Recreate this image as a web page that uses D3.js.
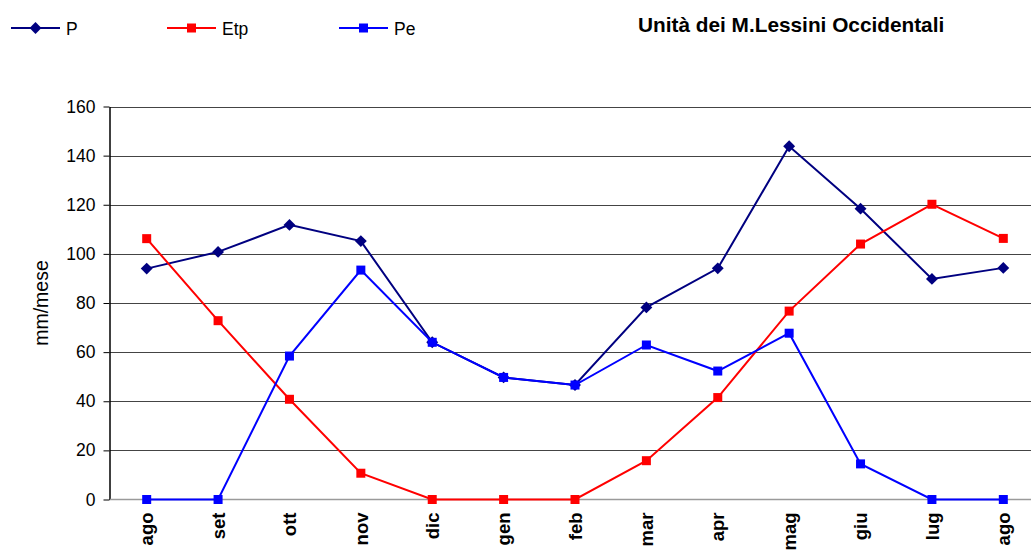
<!DOCTYPE html>
<html>
<head>
<meta charset="utf-8">
<script src="https://cdn.jsdelivr.net/npm/d3@7"></script>
<style>
  body { margin: 0; background: #fff; }
  svg { display: block; font-family: Arial, "Liberation Sans", sans-serif; }
  .tick-label { font-size: 17.5px; fill: #000; }
  .x-label { font-size: 18.5px; font-weight: bold; fill: #000; }
</style>
</head>
<body>
<svg id="chart"></svg>
<script>
// data (mm/mese)
const months = ['ago', 'set', 'ott', 'nov', 'dic', 'gen', 'feb', 'mar', 'apr', 'mag', 'giu', 'lug', 'ago'];
const pValues = [94, 100.8, 111.8, 105.2, 64, 49.7, 46.6, 78.2, 94.1, 143.8, 118.4, 89.8, 94.3];
const etpValues = [106.2, 72.8, 40.8, 10.7, 0, 0, 0, 15.8, 41.5, 76.7, 104, 120.2, 106.3];
const peValues = [0, 0, 58.4, 93.4, 64, 49.7, 46.6, 62.9, 52.3, 67.7, 14.5, 0, 0];
const yTicks = [0, 20, 40, 60, 80, 100, 120, 140, 160];

const series = [
  {name: 'P', values: pValues, color: '#000080', marker: 'diamond'},
  {name: 'Etp', values: etpValues, color: '#ff0000', marker: 'square'},
  {name: 'Pe', values: peValues, color: '#0000ff', marker: 'square'}
];

const width = 1031, height = 552;
const margin = {top: 106.5, right: -8, bottom: 52.5, left: 111};
const innerW = width - margin.left - margin.right;
const innerH = height - margin.top - margin.bottom;

const svg = d3.select('#chart').attr('width', width).attr('height', height);

// months repeat ('ago' twice) so the band scale runs on index
const x = d3.scaleBand()
    .domain(d3.range(months.length))
    .range([margin.left, margin.left + innerW]);

const y = d3.scaleLinear()
    .domain([0, 160])
    .range([margin.top + innerH, margin.top]);

const cx = i => x(i) + x.bandwidth() / 2;

// gridlines
svg.append('g')
  .selectAll('line')
  .data(yTicks.filter(t => t > 0))
  .join('line')
    .attr('x1', margin.left - 1)
    .attr('x2', width)
    .attr('y1', d => Math.round(y(d)) + 0.5)
    .attr('y2', d => Math.round(y(d)) + 0.5)
    .attr('stroke', '#444')
    .attr('stroke-width', 1);

// y axis
const yAxis = d3.axisLeft(y)
    .tickValues(yTicks)
    .tickSize(6)
    .tickPadding(8)
    .tickSizeOuter(0);

const yAxisG = svg.append('g')
    .attr('transform', `translate(${margin.left - 1.5},0)`)
    .call(yAxis);
yAxisG.select('.domain').attr('stroke', '#000').attr('stroke-width', 1.5);
yAxisG.selectAll('.tick line').attr('stroke', '#000');
yAxisG.selectAll('.tick text')
    .attr('class', 'tick-label')
    .attr('font-family', null)
    .attr('font-size', null);

// zero line (category axis)
svg.append('line')
    .attr('x1', margin.left - 1)
    .attr('x2', width)
    .attr('y1', y(0))
    .attr('y2', y(0))
    .attr('stroke', '#9a9a9a')
    .attr('stroke-width', 1.5);

// x labels, rotated
svg.append('g')
  .selectAll('text')
  .data(months)
  .join('text')
    .attr('class', 'x-label')
    .attr('text-anchor', 'end')
    .attr('dy', '0.36em')
    .attr('transform', (d, i) => `translate(${cx(i)},${y(0) + 13}) rotate(-90)`)
    .text(d => d);

// y axis title
svg.append('text')
    .attr('transform', `translate(48,${margin.top + innerH / 2}) rotate(-90)`)
    .attr('text-anchor', 'middle')
    .attr('font-size', 19.5)
    .text('mm/mese');

const line = d3.line()
    .x((d, i) => cx(i))
    .y(d => y(d));

const diamond = d3.symbol().type(d3.symbolDiamond2).size(90);

function drawMarker(g, type, color) {
  if (type === 'diamond') {
    return g.append('path').attr('d', diamond()).attr('fill', color);
  }
  return g.append('rect')
      .attr('x', -4.5).attr('y', -4.5)
      .attr('width', 9).attr('height', 9)
      .attr('fill', color);
}

series.forEach(s => {
  const g = svg.append('g');
  g.append('path')
      .datum(s.values)
      .attr('fill', 'none')
      .attr('stroke', s.color)
      .attr('stroke-width', 2)
      .attr('d', line);
  s.values.forEach((v, i) => {
    const m = g.append('g').attr('transform', `translate(${cx(i)},${y(v)})`);
    drawMarker(m, s.marker, s.color);
  });
});

// legend
const legendX = [11, 167, 339];
series.forEach((s, k) => {
  const g = svg.append('g').attr('transform', `translate(${legendX[k]},28)`);
  g.append('line')
      .attr('x1', 0).attr('x2', 49)
      .attr('stroke', s.color)
      .attr('stroke-width', 2);
  const m = g.append('g').attr('transform', 'translate(24.5,0)');
  drawMarker(m, s.marker, s.color);
  g.append('text')
      .attr('x', 55)
      .attr('y', 6.5)
      .attr('font-size', 17.5)
      .text(s.name);
});

// title
svg.append('text')
    .attr('x', 638)
    .attr('y', 32)
    .attr('font-size', 20.8)
    .attr('font-weight', 'bold')
    .text('Unità dei M.Lessini Occidentali');
</script>
</body>
</html>
